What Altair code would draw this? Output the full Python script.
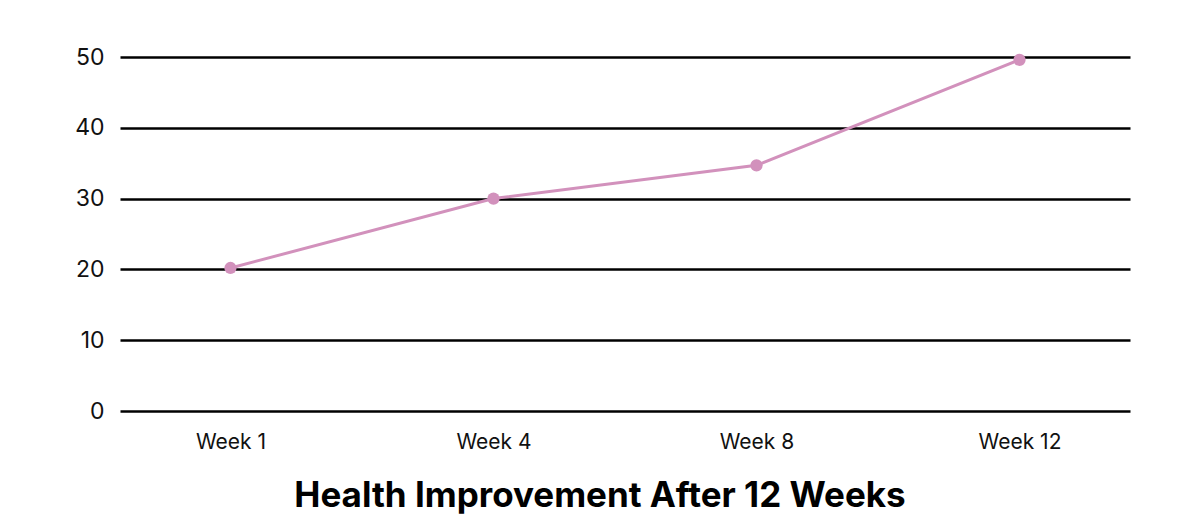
import altair as alt
import pandas as pd

weeks = ["Week 1", "Week 4", "Week 8", "Week 12"]
scores = [20.2, 30.0, 34.7, 49.6]

df = pd.DataFrame({"week": weeks, "score": scores})

base = alt.Chart(df).encode(
    x=alt.X("week:N", sort=weeks,
            scale=alt.Scale(type="point", padding=0.42),
            axis=alt.Axis(title=None, labelAngle=0, domain=False, ticks=False,
                          grid=False, labelFont="Inter", labelFontSize=21,
                          labelColor="#111111", labelPadding=20)),
    y=alt.Y("score:Q", scale=alt.Scale(domain=[0, 50]),
            axis=alt.Axis(title=None, values=[0, 10, 20, 30, 40, 50], domain=False,
                          ticks=False, grid=True, gridColor="#000000", gridWidth=2.5,
                          gridOpacity=1, labelFont="Inter", labelFontSize=23,
                          labelColor="#111111", labelPadding=16)),
)

line = base.mark_line(color="#d291bc", strokeWidth=3)
pts = base.mark_circle(color="#d291bc", size=150, opacity=1)

chart = (line + pts).properties(
    width=1010,
    height=354,
    autosize=alt.AutoSizeParams(type="none"),
    padding={"left": 112, "top": 49, "right": 62, "bottom": 112},
    title=alt.TitleParams(
        "Health Improvement After 12 Weeks",
        orient="bottom", anchor="middle", font="Inter", fontSize=35,
        fontWeight="bold", color="#000000", offset=27, dx=-25,
    ),
).configure_view(stroke=None)

chart.save("out.html", embed_options={"renderer": "svg", "actions": False})
